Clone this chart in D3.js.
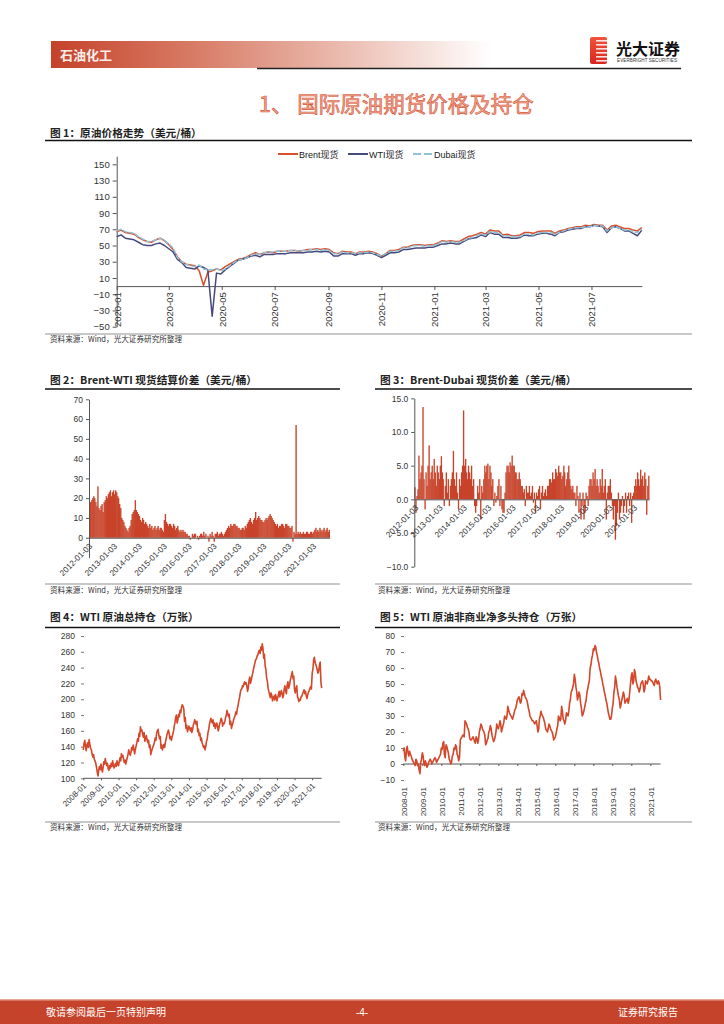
<!DOCTYPE html>
<html><head><meta charset="utf-8">
<script src="https://cdn.jsdelivr.net/npm/d3@7"></script>
<style>
body{margin:0;background:#fff;}
svg{display:block;}
</style></head><body>
<svg id="page" width="724" height="1024"></svg>
<script>
// ---------------- DATA ----------------
// Chart 1: crude spot prices, one value every 5 days from 2020-01-01 (USD/bbl)
const c1Start = "2020-01-01";
const c1StepDays = 5;
const brentSpot = [67,69,66,65,64,60,57,55,54,57,59,56,51,45,36,30,27,26,25,19,
  1,17,19,21,20,24,27,30,33,34,36,39,41,39,41,42,41,43,43,43,
  44,44,43,44,45,45,46,45,46,45,41,40,43,42,42,40,42,42,43,42,
  40,37,40,44,44,45,48,48,50,51,51,50,51,51,53,56,55,56,55,55,
  58,61,62,64,66,64,69,68,68,63,64,62,62,63,66,66,65,67,68,68,
  68,65,68,69,71,72,73,73,75,74,76,75,75,69,74,75,73,71,71,69,68,72];
const wtiSpot = [61,63,59,58,57,54,51,50,50,52,53,50,46,42,33,29,23,22,21,25,
  23,20,-37,16,15,20,24,28,32,33,35,37,38,36,39,39,39,40,40,40,
  41,41,41,41,42,42,43,42,43,42,37,37,40,40,40,38,40,40,41,40,
  38,35,38,41,41,42,45,45,46,47,47,47,48,48,50,52,52,53,52,52,
  55,58,59,60,63,61,66,64,64,60,60,59,59,60,63,62,62,64,65,65,
  64,62,66,67,69,70,71,71,73,73,75,74,73,66,72,73,71,68,68,65,62,69];
const dubaiSpot = [68,70,67,66,65,61,58,55,55,57,59,56,52,47,35,30,27,25,24,26,
  21,20,20,21,19,21,25,29,32,33,35,38,40,39,41,42,42,43,43,43,
  44,44,43,44,44,45,45,44,45,44,40,40,42,41,41,40,41,41,42,41,
  39,37,40,43,43,44,47,47,49,50,50,49,50,50,52,55,54,55,54,54,
  56,59,60,62,64,63,67,66,66,62,62,61,61,61,64,64,63,65,66,66,
  66,64,66,68,70,71,72,72,73,73,75,74,74,68,72,73,71,69,69,67,66,70];
const c1Series = ["Brent现货","WTI现货","Dubai现货"];
const c1TickDates = ["2020-01-01","2020-03-01","2020-05-01","2020-07-01","2020-09-01","2020-11-01",
  "2021-01-01","2021-03-01","2021-05-01","2021-07-01"];
const c1YTicks = [-50,-30,-10,10,30,50,70,90,110,130,150];

// Chart 2: Brent-WTI spread, two values per month (1st & 16th) from 2012-01
const c2Start = "2012-01-01";
const brentWtiSpread = [
  14,18,19,20,21,20,18,16,26,15,14,16,17,13,18,19,21,20,22,23,24,21,23,24,
  22,24,23,21,20,17,15,10,9,8,6,5,4,3,5,6,9,12,13,14,19,14,13,12,
  11,9,8,10,9,7,8,7,6,5,7,5,6,4,5,6,4,5,6,4,5,5,4,3,
  9,12,8,7,6,7,7,6,5,7,6,4,5,6,4,3,4,3,4,3,3,2,2,1,
  1,-1,0,2,1,2,2,0,1,-1,1,2,2,1,3,1,2,0,1,-2,2,1,3,1,
  -2,2,2,3,1,2,2,3,2,1,2,3,4,5,6,5,7,6,6,7,7,6,6,5,
  5,4,4,5,5,4,6,5,7,8,9,10,8,7,9,10,13,9,10,11,10,9,9,8,
  8,9,10,9,10,11,12,11,10,9,8,7,6,7,5,6,6,7,7,6,5,7,7,6,
  6,5,5,6,-2,3,2,57,2,3,2,3,2,2,3,2,2,3,3,2,2,3,3,2,
  3,4,5,3,4,3,5,4,3,4,5,3,4,5,3,4];
const c2TickLabels = ["2012-01-03","2013-01-03","2014-01-03","2015-01-03","2016-01-03",
  "2017-01-03","2018-01-03","2019-01-03","2020-01-03","2021-01-03"];
const c2YTicks = [0,10,20,30,40,50,60,70];

// Chart 3: Brent-Dubai spread, two values per month from 2012-01
const c3Start = "2012-01-01";
const brentDubaiSpread = [
  1.8,-2,0.5,1.5,6.5,3,4,5,13.7,3,-1.5,4,2,5,8,3,4,5,3,6,4,2,5,4,
  3,5,6.4,4,3,-1,2,4,1,3,-1,2,3,4,7.2,3,2,4,1,-1.5,3,2,4,5,
  13.2,5,6,4,3,5,4,3,5,2,3,-1,-2,-1,2,1,3,-3,2,1,3,5,4,5,
  5.3,3,5,4,2,3,-1,1,-0.5,0.5,2,3,-1,2,-1.5,-2,-2,1,4,5,5,4,5.5,5,
  6.5,5,5,4,4,3,3,4,3,2,2,1,1.5,-1,2,1,1,2,0.5,1,2,-0.5,1,-2,
  1,0.5,1.5,2,-1.5,1,2,0.5,1,1.5,0.5,2,2,3,3,2.5,4,3,3,4.5,4,3.5,5,4,
  4,3,3.5,5,4,2,3,4,5,3,2,1.5,2,1,1,-1,2,0.5,-2,1,-3,-1,1,-3,
  -2,1,0.5,-1,2,3,3,2,4,3,4.5,2,3,2,1,3,2,4.5,1,2,3,-3,1,2,
  2,3,1,-1,-3,-1,-6,-4,-2,1,-3,-2,-1,0.5,-2,-1,1,-2,0.5,1,-1,1,-3.5,0.5,
  1,2,3,2,4,3,2,4.4,3,3.5,2,4,3,-2.3,2,3.5];
const c3TickLabels = c2TickLabels;
const c3YTicks = [-10,-5,0,5,10,15];

// Chart 4: WTI total open interest (10k contracts), two values per month from 2008-01
const c4Start = "2008-01-01";
const wtiOpenInterest = [
  136,144,148,140,135,142,145,139,149,143,138,136,131,127,130,124,122,119,114,108,103,110,115,111,
  118,112,108,114,121,118,125,120,116,119,112,110,116,113,119,115,122,117,113,116,119,115,122,118,
  116,121,126,122,131,127,129,124,120,123,118,122,126,130,136,132,129,133,139,136,142,137,131,136,
  141,145,150,147,157,153,165,160,161,156,152,158,147,150,154,149,145,148,139,142,130,134,137,140,
  142,146,151,148,157,160,162,155,150,153,138,142,136,140,143,139,146,150,155,158,161,157,150,153,
  148,152,156,160,166,170,177,180,170,174,181,178,186,183,190,193,191,188,172,177,163,167,159,162,
  166,163,160,164,158,161,167,170,174,171,168,172,159,162,154,157,148,151,145,142,139,141,136,140,
  147,150,158,162,168,172,176,172,170,174,166,170,163,167,170,166,160,164,169,172,176,173,166,170,
  169,172,177,180,186,182,178,181,168,172,163,167,170,174,177,180,184,181,188,192,198,202,208,212,
  213,217,216,220,222,219,221,217,210,214,224,228,220,224,229,233,238,242,246,250,251,255,256,260,
  262,258,266,262,270,265,252,257,242,238,227,223,214,210,206,202,208,205,198,202,204,199,206,203,
  198,202,206,210,203,207,211,208,202,205,213,217,210,207,218,222,214,217,223,227,231,235,226,229,
  212,208,214,217,204,201,197,200,199,203,204,207,209,212,207,210,204,201,206,209,211,214,216,213,
  233,238,250,253,247,244,241,237,233,236,243,247,222,214];
const c4YTicks = [100,120,140,160,180,200,220,240,260,280];

// Chart 5: WTI non-commercial net long (10k contracts), two values per month from 2008-01
const c5Start = "2008-01-01";
const wtiNetLong = [
  8,10,4,2,9,11,7,5,8,6,5,3,2,1,0,-1,3,2,-1,0,-4,-6,1,3,
  7,5,0,-1,2,0,-2,-1,1,2,3,2,0,1,2,3,4,3,1,2,3,4,5,6,
  10,9,13,14,6,4,12,11,9,7,3,2,0,1,5,6,10,9,12,11,6,5,2,4,
  15,16,17,18,18,17,27,26,25,23,22,20,16,15,15,16,17,16,14,13,17,16,13,15,
  20,22,25,24,22,21,20,18,12,13,15,16,20,21,24,22,18,16,14,15,17,20,25,23,
  22,24,27,25,20,22,24,26,30,29,28,30,36,34,32,31,30,29,28,30,32,34,35,37,
  40,41,42,40,38,39,44,43,46,44,42,41,40,38,35,33,30,29,28,27,27,26,25,26,
  27,24,20,22,28,30,33,31,30,29,27,25,22,21,20,22,25,24,22,21,20,18,15,16,
  17,19,22,24,30,29,27,28,36,33,28,27,25,27,32,31,30,33,38,40,45,46,48,50,
  56,53,48,45,40,42,45,43,38,35,30,31,33,35,38,40,45,47,50,52,60,62,66,68,
  72,71,74,73,70,68,65,63,60,58,55,53,50,48,45,43,40,38,35,32,30,28,28,30,
  35,38,45,48,55,52,48,45,42,40,35,37,40,42,45,43,38,39,40,41,38,40,45,50,
  55,57,50,52,59,57,52,50,48,47,45,47,50,51,52,50,45,47,52,51,50,52,55,53,
  53,52,52,51,50,49,52,53,51,50,52,51,48,40];
const c5YTicks = [-10,0,10,20,30,40,50,60,70,80];
const yearTickLabels = ["2008-01","2009-01","2010-01","2011-01","2012-01","2013-01","2014-01",
  "2015-01","2016-01","2017-01","2018-01","2019-01","2020-01","2021-01"];

// ---------------- DRAW ----------------
const CN = "'Noto Sans CJK SC','Liberation Sans',sans-serif";
const LAT = "'Liberation Sans','Noto Sans CJK SC',Arial,sans-serif";
const RED = "#C8432A";
const parse = d3.timeParse("%Y-%m-%d");
const svg = d3.select("#page");
const defs = svg.append("defs");

// Header band
const hg = defs.append("linearGradient").attr("id","hdr").attr("x1","0").attr("x2","1");
hg.append("stop").attr("offset","0").attr("stop-color","#C5422A");
hg.append("stop").attr("offset","0.35").attr("stop-color","#D9806B");
hg.append("stop").attr("offset","0.7").attr("stop-color","#EDC3B8");
hg.append("stop").attr("offset","1").attr("stop-color","#FFFFFF");
svg.append("rect").attr("x",51).attr("y",41).attr("width",440).attr("height",27).attr("fill","url(#hdr)");
svg.append("text").attr("x",60).attr("y",60).attr("font-family",CN).attr("font-size",13)
  .attr("font-weight","bold").attr("fill","#FBEDE8").text("石油化工");
svg.append("line").attr("x1",257).attr("x2",681).attr("y1",68.5).attr("y2",68.5)
  .attr("stroke","#222").attr("stroke-width",1.3);

// Logo
const lg = defs.append("linearGradient").attr("id","logo").attr("x1","0").attr("x2","0").attr("y1","0").attr("y2","1");
lg.append("stop").attr("offset","0").attr("stop-color","#F0533A");
lg.append("stop").attr("offset","1").attr("stop-color","#D8261E");
svg.append("rect").attr("x",590).attr("y",37).attr("width",17).attr("height",27).attr("rx",2).attr("fill","url(#logo)");
d3.range(6).forEach(i=>{
  svg.append("rect").attr("x",596).attr("y",40+i*4).attr("width",11).attr("height",1.6)
    .attr("fill","#fff").attr("opacity",0.85);
});
svg.append("text").attr("x",616).attr("y",55).attr("font-family",CN).attr("font-size",16)
  .attr("font-weight","bold").attr("fill","#111").text("光大证券");
svg.append("text").attr("x",617).attr("y",62).attr("font-family",LAT).attr("font-size",4.6)
  .attr("fill","#333").attr("textLength",60).text("EVERBRIGHT SECURITIES");

// Section heading
svg.append("text").attr("x",259).attr("y",112).attr("font-family",CN).attr("font-size",21.5)
  .attr("fill","#F0A58F").attr("stroke","#D5573A").attr("stroke-width",0.6)
  .text("1、 国际原油期货价格及持仓");

// Title/source helpers
function chartTitle(x, y, txt, lx1, lx2, ly){
  svg.append("text").attr("x",x).attr("y",y).attr("font-family",CN).attr("font-size",10.7)
    .attr("font-weight","bold").attr("fill","#222").text(txt);
  svg.append("line").attr("x1",lx1).attr("x2",lx2).attr("y1",ly).attr("y2",ly)
    .attr("stroke","#111").attr("stroke-width",1.3);
}
function source(x, y, lx1, lx2, ly){
  svg.append("line").attr("x1",lx1).attr("x2",lx2).attr("y1",ly).attr("y2",ly)
    .attr("stroke","#777").attr("stroke-width",0.8);
  svg.append("text").attr("x",x).attr("y",y).attr("font-family",CN).attr("font-size",7.6)
    .attr("fill","#333").text("资料来源：Wind，光大证券研究所整理");
}
function styleAxis(g, fs){
  g.attr("font-size",fs).attr("font-family",LAT);
  g.selectAll("path,line").attr("stroke","#555");
  g.selectAll("text").attr("fill","#333");
}

// ---------- Chart 1 ----------
chartTitle(50,137,"图 1：原油价格走势（美元/桶）",45,692,140.5);
source(50,342,45,692,334);
const d1 = parse(c1Start);
const c1Dates = brentSpot.map((_,i)=>d3.timeDay.offset(d1, i*c1StepDays));
const x1 = d3.scaleTime().domain([d1, parse("2021-08-28")]).range([116.7, 641.8]);
const y1 = d3.scaleLinear().domain([-50,160]).range([326.7,156.2]);
const gy1 = svg.append("g").attr("transform","translate(116.7,0)")
  .call(d3.axisLeft(y1).tickValues(c1YTicks).tickSize(4).tickSizeOuter(0).tickPadding(3));
styleAxis(gy1, 9.5);
const gx1 = svg.append("g").attr("transform",`translate(0,${y1(0)})`)
  .call(d3.axisBottom(x1).tickValues(c1TickDates.map(parse)).tickFormat(d3.timeFormat("%Y-%m")).tickSize(4).tickSizeOuter(0));
gx1.selectAll("text").attr("transform","rotate(-90)").attr("x",-6).attr("y",0).attr("dy","0.35em").style("text-anchor","end");
styleAxis(gx1, 9.5);
const line1 = d3.line().x((d,i)=>x1(c1Dates[i])).y(d=>y1(d));
const c1Styles = [
  {data:brentSpot, color:"#D9502B", dash:null},
  {data:wtiSpot, color:"#474A7C", dash:null},
  {data:dubaiSpot, color:"#8FC1D8", dash:"5,1.5"}];
c1Styles.forEach(s=>{
  svg.append("path").attr("d",line1(s.data)).attr("fill","none").attr("stroke",s.color)
    .attr("stroke-width",1.5).attr("stroke-linejoin","round").attr("stroke-dasharray",s.dash);
});
// legend
const legX = [278,348,413];
c1Series.forEach((name,i)=>{
  svg.append("line").attr("x1",legX[i]).attr("x2",legX[i]+20).attr("y1",154).attr("y2",154)
    .attr("stroke",c1Styles[i].color).attr("stroke-width",2).attr("stroke-dasharray",c1Styles[i].dash ? "8,3" : null);
  svg.append("text").attr("x",legX[i]+21).attr("y",157.5).attr("font-family",LAT).attr("font-size",9)
    .attr("fill","#222").text(name);
});

// ---------- Bar chart helper (charts 2 & 3) ----------
function halfMonthDates(start, n){
  const s = parse(start);
  return d3.range(n).map(i=>{
    const m = d3.timeMonth.offset(s, Math.floor(i/2));
    return i%2 ? d3.timeDay.offset(m,15) : m;
  });
}
function barChart(vals, start, xr, ydom, yr, yTicks, fmt, tickLabels, labelShift){
  const dates = halfMonthDates(start, vals.length);
  const x = d3.scaleTime().domain([parse(start), parse("2021-09-01")]).range(xr);
  const y = d3.scaleLinear().domain(ydom).range(yr);
  const bw = x(parse("2012-01-16")) - x(parse("2012-01-01"));
  svg.append("g").selectAll("rect").data(vals).join("rect")
    .attr("x",(d,i)=>x(dates[i]))
    .attr("width",bw+0.35)
    .attr("y",d=>Math.min(y(d),y(0)))
    .attr("height",d=>Math.abs(y(d)-y(0)))
    .attr("fill",RED);
  const gy = svg.append("g").attr("transform",`translate(${xr[0]},0)`)
    .call(d3.axisLeft(y).tickValues(yTicks).tickFormat(fmt).tickSize(3).tickSizeOuter(0).tickPadding(3));
  styleAxis(gy, 8.5);
  const tickDates = tickLabels.map(parse);
  const gx = svg.append("g").attr("transform",`translate(0,${y(0)})`)
    .call(d3.axisBottom(x).tickValues(tickDates).tickFormat(d3.timeFormat("%Y-%m-%d")).tickSize(0).tickSizeOuter(0));
  gx.selectAll("text").attr("transform",`translate(${labelShift[0]},${labelShift[1]}) rotate(-45)`)
    .attr("x",0).attr("y",0).attr("dy","0.35em").style("text-anchor","end");
  styleAxis(gx, 8.2);
}

// ---------- Chart 2 ----------
chartTitle(50,384,"图 2：Brent-WTI 现货结算价差（美元/桶）",45,340,389);
source(50,593,45,340,584);
barChart(brentWtiSpread, c2Start, [89,329.7], [-10,70], [557.5,399.3], c2YTicks, d3.format("d"), c2TickLabels, [1,7]);

// ---------- Chart 3 ----------
chartTitle(380,384,"图 3：Brent-Dubai 现货价差（美元/桶）",375,692,389);
source(378,593,375,692,584);
barChart(brentDubaiSpread, c3Start, [414.3,649.2], [-10,15], [566.7,398.3], c3YTicks, d3.format(".1f"), c3TickLabels, [2,7]);

// ---------- Line chart helper (charts 4 & 5) ----------
function halfMonthLine(vals, start, xr, ydom, yr, yTicks, axisAtY, yAxisX, rotate90){
  const s = parse(start);
  const dates = halfMonthDates(start, vals.length);
  const x = d3.scaleTime().domain([s, parse("2021-08-01")]).range(xr);
  const y = d3.scaleLinear().domain(ydom).range(yr);
  const gy = svg.append("g").attr("transform",`translate(${yAxisX},0)`)
    .call(d3.axisLeft(y).tickValues(yTicks).tickSize(3).tickPadding(6));
  gy.select(".domain").remove();
  styleAxis(gy, 8.5);
  gy.selectAll("line").attr("stroke","#777");
  const ticks = yearTickLabels.map(t=>parse(t+"-01"));
  const gx = svg.append("g").attr("transform",`translate(0,${y(axisAtY)})`)
    .call(d3.axisBottom(x).tickValues(ticks).tickFormat(d3.timeFormat("%Y-%m")).tickSize(2).tickSizeOuter(0));
  gx.select(".domain").attr("d",`M${xr[0]},0H${x(dates[dates.length-1])}`);
  if(rotate90){
    const off = y(ydom[0]) - y(axisAtY) + 7;
    gx.selectAll("text").attr("transform",`translate(0,${off}) rotate(-90)`)
      .attr("x",0).attr("y",0).attr("dy","0.35em").style("text-anchor","end");
  } else {
    gx.selectAll("text").attr("transform","translate(1,6) rotate(-45)")
      .attr("x",0).attr("y",0).attr("dy","0.35em").style("text-anchor","end");
  }
  styleAxis(gx, 8);
  svg.append("path").attr("d", d3.line().x((d,i)=>x(dates[i])).y(d=>y(d))(vals))
    .attr("fill","none").attr("stroke","#D4472A").attr("stroke-width",1.6).attr("stroke-linejoin","round");
}

// ---------- Chart 4 ----------
chartTitle(50,621,"图 4：WTI 原油总持仓（万张）",45,340,627.5);
source(50,830,45,340,822);
halfMonthLine(wtiOpenInterest, c4Start, [83.3,322.4], [100,280], [778.3,636], c4YTicks, 100, 84, false);

// ---------- Chart 5 ----------
chartTitle(380,621,"图 5：WTI 原油非商业净多头持仓（万张）",375,692,627.5);
source(378,830,375,692,822);
halfMonthLine(wtiNetLong, c5Start, [403.3,661.4], [-10,80], [780,636], c5YTicks, 0, 404, true);

// ---------- Footer ----------
svg.append("rect").attr("x",0).attr("y",1000).attr("width",724).attr("height",24).attr("fill","#C5432A");
svg.append("rect").attr("x",0).attr("y",999).attr("width",724).attr("height",1.5).attr("fill","#E8A898");
svg.append("text").attr("x",46).attr("y",1016).attr("font-family",CN).attr("font-size",10).attr("fill","#fff").text("敬请参阅最后一页特别声明");
svg.append("text").attr("x",362).attr("y",1016).attr("text-anchor","middle").attr("font-family",LAT).attr("font-size",10).attr("fill","#fff").text("-4-");
svg.append("text").attr("x",678).attr("y",1016).attr("text-anchor","end").attr("font-family",CN).attr("font-size",10).attr("fill","#fff").text("证券研究报告");
</script></body></html>
